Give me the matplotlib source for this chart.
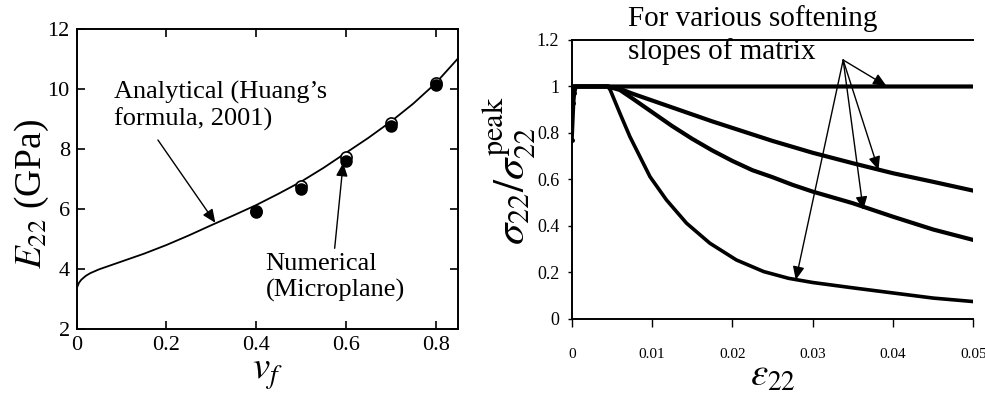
import matplotlib
matplotlib.use("Agg")
import matplotlib.pyplot as plt
import numpy as np

plt.rcParams['font.family'] = ['Liberation Serif', 'DejaVu Serif']
plt.rcParams['mathtext.fontset'] = 'stix'

# ---- Left panel data ----
vf_curve = [0.0, 0.005, 0.01, 0.02, 0.03, 0.05, 0.1, 0.15, 0.2, 0.25, 0.3, 0.35, 0.4, 0.45,
            0.5, 0.55, 0.6, 0.65, 0.7, 0.75, 0.8, 0.85]
e22_curve = [3.37, 3.55, 3.65, 3.78, 3.87, 4.0, 4.26, 4.52, 4.81, 5.13, 5.47, 5.8, 6.14, 6.52,
             6.92, 7.38, 7.88, 8.38, 8.92, 9.52, 10.2, 11.03]
vf_num = [0.4, 0.5, 0.6, 0.7, 0.8]
e22_num_filled = [5.92, 6.68, 7.62, 8.78, 10.13]
e22_num_open = [5.95, 6.78, 7.75, 8.86, 10.2]
left_xticks = [0, 0.2, 0.4, 0.6, 0.8]
left_xticklabels = ['0', '0.2', '0.4', '0.6', '0.8']
left_yticks = [2, 4, 6, 8, 10, 12]

# ---- Right panel data ----
eps_flat = [0.0, 0.0002, 0.0003, 0.0005, 0.01, 0.02, 0.03, 0.04, 0.05]
sig_flat = [0.77, 0.93, 0.97, 1.0, 1.0, 1.0, 1.0, 1.0, 1.0]
eps_a = [0.0, 0.0045, 0.006, 0.0075, 0.01, 0.0125, 0.015, 0.0175, 0.02, 0.025, 0.03,
         0.035, 0.04, 0.045, 0.05]
sig_a = [1.0, 1.0, 0.99, 0.97, 0.94, 0.91, 0.88, 0.85, 0.822, 0.766, 0.715,
         0.67, 0.627, 0.59, 0.552]
eps_b = [0.0, 0.0045, 0.006, 0.0075, 0.01, 0.0125, 0.015, 0.0175, 0.02, 0.0225, 0.025,
         0.0275, 0.03, 0.035, 0.04, 0.045, 0.05]
sig_b = [1.0, 1.0, 0.985, 0.95, 0.89, 0.83, 0.775, 0.725, 0.68, 0.64, 0.61,
         0.577, 0.548, 0.498, 0.44, 0.385, 0.34]
eps_c = [0.0, 0.0045, 0.0048, 0.006, 0.00725, 0.0085, 0.00975, 0.0118, 0.0143, 0.0172,
         0.0205, 0.0239, 0.027, 0.03, 0.035, 0.04, 0.045, 0.05]
sig_c = [1.0, 1.0, 0.985, 0.885, 0.784, 0.698, 0.612, 0.512, 0.412, 0.326,
         0.254, 0.204, 0.175, 0.157, 0.134, 0.112, 0.09, 0.075]
right_xticks = [0, 0.01, 0.02, 0.03, 0.04, 0.05]
right_xticklabels = ['0', '0.01', '0.02', '0.03', '0.04', '0.05']
right_yticks = [0, 0.2, 0.4, 0.6, 0.8, 1.0, 1.2]
right_yticklabels = ['0', '0.2', '0.4', '0.6', '0.8', '1', '1.2']

fig = plt.figure(figsize=(9.85, 3.98), dpi=100)

# ================= Left =================
ax1 = fig.add_axes([0.0779, 0.1726, 0.3871, 0.7538])
ax1.plot(vf_curve, e22_curve, color='black', lw=1.3)
ax1.plot(vf_num, e22_num_open, 'o', mfc='white', mec='black', ms=8, mew=1.2)
ax1.plot(vf_num, e22_num_filled, 'o', color='black', ms=8)
ax1.set_xlim(0, 0.85)
ax1.set_ylim(2, 12)
ax1.set_xticks(left_xticks)
ax1.set_xticklabels(left_xticklabels)
ax1.set_yticks(left_yticks)
ax1.tick_params(direction='in', top=True, right=True, length=6, width=1.2,
                labelsize=16, pad=5)
for s in ax1.spines.values():
    s.set_linewidth(1.4)
ax1.set_xlabel(r'$v_f$', fontsize=28, labelpad=0)
ax1.set_ylabel(r'$E_{22}$ (GPa)', fontsize=27)
ax1.yaxis.set_label_coords(-0.068, 0.45)

ax1.text(0.082, 9.45, "Analytical (Huang\u2019s\nformula, 2001)", fontsize=19,
         ha='left', va='center', linespacing=1.22)
ax1.annotate('', xy=(0.309, 5.55), xytext=(0.181, 8.31),
             arrowprops=dict(arrowstyle='-|>,head_length=0.8,head_width=0.35',
                             color='black', lw=1.0, shrinkA=0, shrinkB=0))
ax1.text(0.421, 3.72, "Numerical\n(Microplane)", fontsize=19,
         ha='left', va='center', linespacing=1.22)
ax1.annotate('', xy=(0.594, 7.55), xytext=(0.575, 4.7),
             arrowprops=dict(arrowstyle='-|>,head_length=0.8,head_width=0.35',
                             color='black', lw=1.0, shrinkA=0, shrinkB=0))

# ================= Right =================
ax2 = fig.add_axes([0.5804, 0.1985, 0.4077, 0.701])
ax2.plot(eps_flat, sig_flat, color='black', lw=3.0)
ax2.plot(eps_flat[:3], sig_flat[:3], 'o', color='black', ms=2.5)
ax2.plot(eps_a, sig_a, color='black', lw=3.0)
ax2.plot(eps_b, sig_b, color='black', lw=3.0)
ax2.plot(eps_c, sig_c, color='black', lw=2.6)
ax2.set_xlim(0, 0.05)
ax2.set_ylim(0, 1.2)
ax2.set_xticks(right_xticks)
ax2.set_xticklabels(right_xticklabels)
ax2.set_yticks(right_yticks)
ax2.set_yticklabels(right_yticklabels)
ax2.spines['right'].set_visible(False)
for s in ['left', 'bottom', 'top']:
    ax2.spines[s].set_linewidth(1.4)
ax2.tick_params(axis='x', direction='out', length=6, width=1.0, labelsize=11, pad=15)
ax2.tick_params(axis='y', direction='out', length=3, width=1.0, labelsize=13, pad=6)
ax2.set_xlabel(r'$\varepsilon_{22}$', fontsize=28)
ax2.xaxis.set_label_coords(0.5, -0.205)
ax2.xaxis.label.set_va('center')
ax2.set_ylabel(r'$\sigma_{22}/\sigma_{22}^{\mathrm{peak}}$', fontsize=31)
ax2.yaxis.set_label_coords(-0.085, 0.53)

ax2.text(0.0070, 1.22, "For various softening\nslopes of matrix", fontsize=21,
         ha='left', va='center', linespacing=1.3, clip_on=False)
origin = (0.0338, 1.114)
targets = [(0.0392, 1.002), (0.0382, 0.641), (0.0363, 0.469), (0.0279, 0.168)]
for t in targets:
    ax2.annotate('', xy=t, xytext=origin,
                 arrowprops=dict(arrowstyle='-|>,head_length=0.8,head_width=0.35',
                                 color='black', lw=1.0, shrinkA=0, shrinkB=0))

fig.savefig('out.png', dpi=100, facecolor='white')
